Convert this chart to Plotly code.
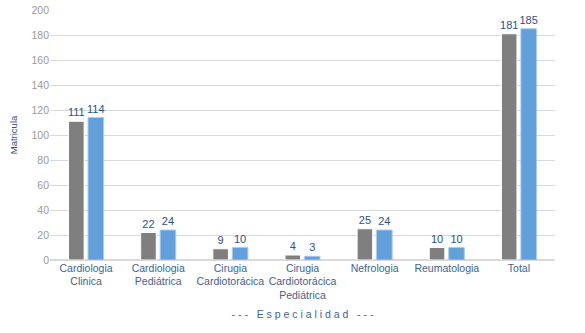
import plotly.graph_objects as go

categories = ["Cardiologia<br>Clinica", "Cardiologia<br>Pediátrica", "Cirugia<br>Cardiotorácica",
              "Cirugia<br>Cardiotorácica<br>Pediátrica", "Nefrologia", "Reumatologia", "Total"]
serie_a = [111, 22, 9, 4, 25, 10, 181]
serie_b = [114, 24, 10, 3, 24, 10, 185]

fig = go.Figure()
fig.add_trace(go.Bar(x=categories, y=serie_a, marker=dict(color="#7f7f7f", line=dict(color="white", width=1)),
                     text=serie_a, textposition="outside", cliponaxis=False, constraintext="none",
                     textfont=dict(color="#2f4e8c", size=11)))
fig.add_trace(go.Bar(x=categories, y=serie_b, marker=dict(color="#629fdb", line=dict(color="#a9cbee", width=1)),
                     text=serie_b, textposition="outside", cliponaxis=False, constraintext="none",
                     textfont=dict(color="#2f4e8c", size=11)))

fig.update_layout(
    width=585, height=333,
    margin=dict(l=50, r=30, t=10, b=73, autoexpand=False),
    paper_bgcolor="white", plot_bgcolor="white",
    font=dict(family="Liberation Sans, Arial, sans-serif", size=10.5),
    barmode="group", bargap=0.46, bargroupgap=0.2,
    showlegend=False,
    xaxis=dict(tickfont=dict(color="#3f5f95", size=10.5), showline=False, ticks="", automargin=False,
               title=dict(text="- - -   E s p e c i a l i d a d   - - -", font=dict(color="#3f5f95", size=10.5), standoff=10)),
    yaxis=dict(range=[0, 200], dtick=20, gridcolor="#d9d9d9", zerolinecolor="#d9d9d9", automargin=False,
               tickfont=dict(color="#9a9a9a", size=10.5), ticks="",
               title=dict(text="Matricula", font=dict(color="#2f4e8c", size=9.5), standoff=12)),
)
fig.write_html("out.html")
